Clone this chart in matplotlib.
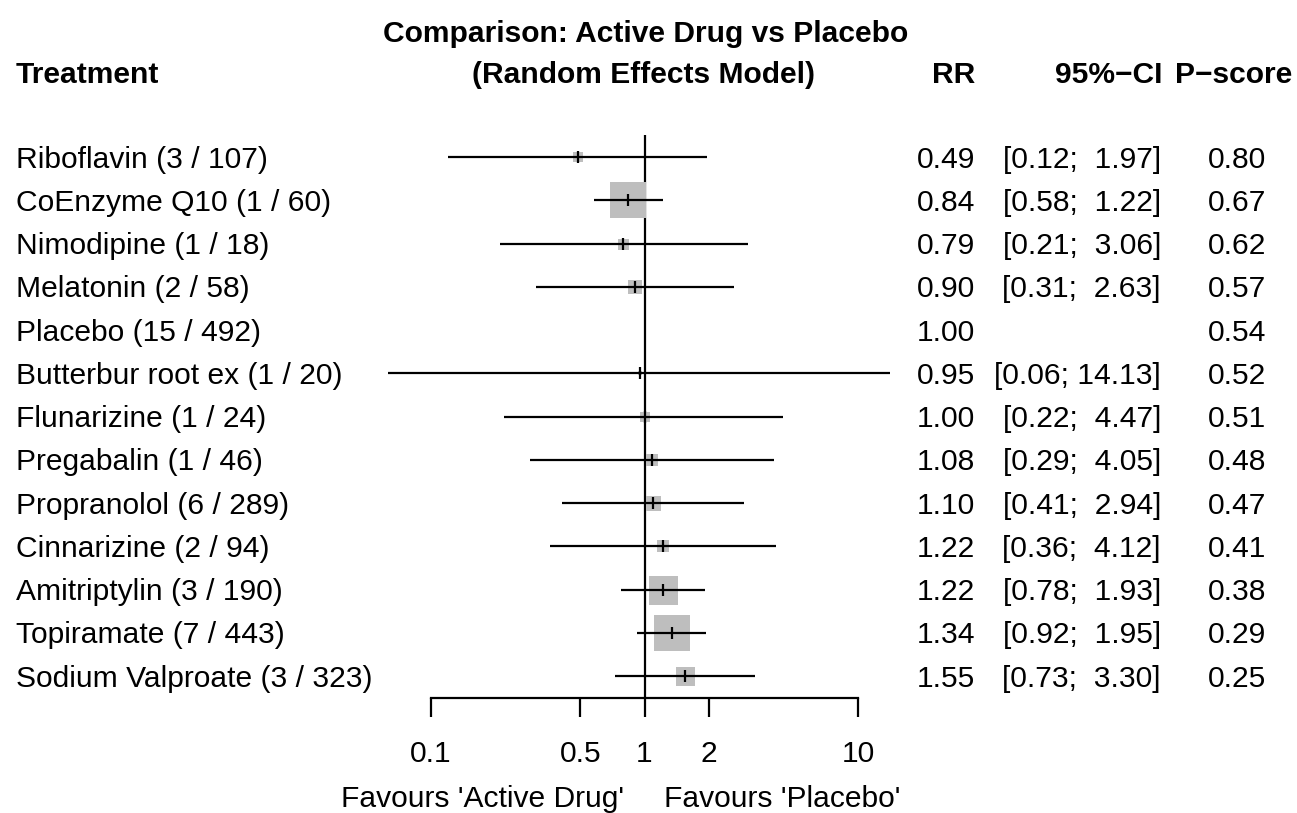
import matplotlib
matplotlib.use("Agg")
import matplotlib.pyplot as plt
from matplotlib import transforms

# ---------------- data ----------------
treatments = ["Riboflavin", "CoEnzyme Q10", "Nimodipine", "Melatonin", "Placebo",
              "Butterbur root ex", "Flunarizine", "Pregabalin", "Propranolol",
              "Cinnarizine", "Amitriptylin", "Topiramate", "Sodium Valproate"]
n_studies = [3, 1, 1, 2, 15, 1, 1, 1, 6, 2, 3, 7, 3]
n_patients = [107, 60, 18, 58, 492, 20, 24, 46, 289, 94, 190, 443, 323]
rr = [0.49, 0.84, 0.79, 0.90, 1.00, 0.95, 1.00, 1.08, 1.10, 1.22, 1.22, 1.34, 1.55]
lower = [0.12, 0.58, 0.21, 0.31, None, 0.063, 0.22, 0.29, 0.41, 0.36, 0.78, 0.92, 0.73]
upper = [1.97, 1.22, 3.06, 2.63, None, 14.13, 4.47, 4.05, 2.94, 4.12, 1.93, 1.95, 3.30]
pscore = [0.80, 0.67, 0.62, 0.57, 0.54, 0.52, 0.51, 0.48, 0.47, 0.41, 0.38, 0.29, 0.25]
weight = [10.7, 36.6, 11, 14, 0, 4, 10, 12, 15, 12.5, 29, 36, 19]  # square side (relative weight)
xticks = [0.1, 0.5, 1, 2, 10]
xtick_labels = ["0.1", "0.5", "1", "2", "10"]

# ---------------- figure ----------------
W, H = 1297, 813
DPI = 100
FS = 21.6
plt.rcParams['font.family'] = ['Liberation Sans', 'DejaVu Sans']
fig = plt.figure(figsize=(W / DPI, H / DPI), dpi=DPI)

ax_left, ax_right = 431, 858
ax_top, ax_bot = 135, 698
ax = fig.add_axes([ax_left / W, 1 - ax_bot / H, (ax_right - ax_left) / W, (ax_bot - ax_top) / H])
ax.set_xscale('log')
ax.set_xlim(0.1, 10)
row0, drow = 157, 43.25
nrow = len(treatments)
ytop = 1 - (row0 - ax_top) / drow
ybot = nrow + (ax_bot - (row0 + (nrow - 1) * drow)) / drow
ax.set_ylim(ybot, ytop)
for s in ['top', 'left', 'right']:
    ax.spines[s].set_visible(False)
ax.spines['bottom'].set_linewidth(1.6)
ax.set_yticks([])
ax.set_xticks(xticks)
ax.set_xticklabels(xtick_labels, fontsize=FS)
ax.minorticks_off()
ax.tick_params(axis='x', direction='out', length=13.7, width=1.6, pad=16.5)
ax.patch.set_visible(False)

ax.axvline(1, color='black', lw=1.6, zorder=1)

rows = list(range(1, nrow + 1))
for i, y in enumerate(rows):
    if lower[i] is None:
        continue
    ax.plot([rr[i]], [y], marker='s', markersize=weight[i] * 0.72, color='#BEBEBE',
            markeredgewidth=0, linestyle='none', zorder=2, clip_on=False)
    ax.plot([lower[i], upper[i]], [y, y], color='black', lw=1.6, zorder=3,
            solid_capstyle='butt', clip_on=False)
    ax.plot([rr[i]], [y], marker='|', markersize=8, markeredgewidth=1.6, color='black',
            linestyle='none', zorder=4, clip_on=False)

# ---------------- text ----------------
def fx(x):
    return x / W

def fy(y):
    return 1 - y / H

base_off = 10.6 / DPI * 72  # center->baseline offset in points
row_tr = transforms.offset_copy(transforms.blended_transform_factory(fig.transFigure, ax.transData),
                                fig=fig, y=-base_off, units='points')

for i, y in enumerate(rows):
    ax.text(fx(16), y, f"{treatments[i]} ({n_studies[i]} / {n_patients[i]})", transform=row_tr,
            fontsize=FS, ha='left', va='baseline')
    ax.text(fx(975), y, f"{rr[i]:.2f}", transform=row_tr, fontsize=FS, ha='right', va='baseline')
    if lower[i] is not None:
        ax.text(fx(1161), y, f"[{lower[i]:.2f}; {upper[i]:>5.2f}]", transform=row_tr,
                fontsize=FS, ha='right', va='baseline')
    ax.text(fx(1237), y, f"{pscore[i]:.2f}", transform=row_tr, fontsize=FS, ha='center', va='baseline')

def ftext(x, y, s, **kw):
    fig.text(fx(x), fy(y + 10.6), s, fontsize=FS, va='baseline', **kw)

ftext(646, 31, "Comparison: Active Drug vs Placebo", ha='center', fontweight='bold')
ftext(643, 72, "(Random Effects Model)", ha='center', fontweight='bold')
ftext(16, 72, "Treatment", ha='left', fontweight='bold')
ftext(975, 72, "RR", ha='right', fontweight='bold')
ftext(1162, 72, "95%\u2212CI", ha='right', fontweight='bold')
ftext(1234, 72, "P\u2212score", ha='center', fontweight='bold')

ftext(624, 796, "Favours 'Active Drug'", ha='right')
ftext(664, 796, "Favours 'Placebo'", ha='left')

fig.savefig("out.png", dpi=DPI)
